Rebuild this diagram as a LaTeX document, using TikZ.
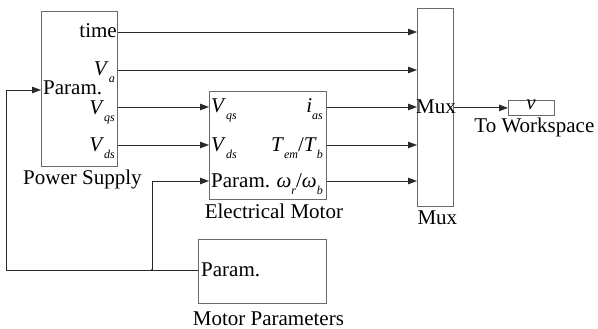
\documentclass[tikz,border=0pt]{standalone}
\usepackage{fontspec}
\setmainfont{Liberation Serif}
\newfontfamily\simfont{Liberation Serif}
\usepackage{tikz}
\usetikzlibrary{arrows.meta, positioning, calc}
\definecolor{boxgray}{RGB}{105, 105, 105}
\definecolor{wiregray}{RGB}{40, 40, 40}
\newcommand{\lowsub}[2]{\textit{#1}\raisebox{-7pt}{\fontsize{12}{12}\selectfont\textit{#2}}}
\tikzset{
  blk/.style={draw=boxgray, line width=0.8pt, anchor=north west, inner sep=0pt},
  lbl/.style={font=\simfont\fontsize{21}{24}\selectfont, inner sep=0pt},
  portl/.style={lbl, anchor=base west},
  portr/.style={lbl, anchor=base east},
  wire/.style={draw=wiregray, line width=0.8pt},
  sarrow/.style={wire, -{Triangle[length=9pt,width=6.5pt]}},
}

\begin{document}
\begin{tikzpicture}[x=1pt, y=-1pt]
  \useasboundingbox (0,0) rectangle (598,329);
  \node[blk, minimum width=76pt, minimum height=155pt] (ps) at (41,11) {};
  \node[blk, minimum width=117pt, minimum height=108pt] (em) at (209,91) {};
  \node[blk, minimum width=36pt, minimum height=198pt] (mux) at (417,8) {};
  \node[blk, minimum width=46pt, minimum height=15pt] (ws) at (508,100) {};
  \node[blk, minimum width=128pt, minimum height=64pt] (mp) at (198,239) {};

  \node[lbl, below=3pt of ps, xshift=3pt] (pslbl) {Power Supply};
  \node[lbl, below=4pt of em, xshift=6pt] (emlbl) {Electrical Motor};
  \node[lbl, below=4pt of mux, xshift=2pt] (muxlbl) {Mux};
  \node[lbl, below=2pt of ws, xshift=3pt] (wslbl) {To Workspace};
  \node[lbl, below=8pt of mp, xshift=6pt] (mplbl) {Motor Parameters};

  \node[portr] (ps-t) at (117,38) {time};
  \node[portr] (ps-a) at (115,76) {\lowsub{V}{a}};
  \node[portr] (ps-q) at (115,114) {\lowsub{V}{qs}};
  \node[portr] (ps-d) at (115,151) {\lowsub{V}{ds}};
  \node[portl] (ps-p) at (43,95) {Param.};

  \node[portl] (em-q) at (211,113) {\lowsub{V}{qs}};
  \node[portl] (em-d) at (211,151) {\lowsub{V}{ds}};
  \node[portl] (em-p) at (211,187) {Param.};
  \node[portr] (em-i) at (323,113) {\lowsub{i}{as}};
  \node[portr] (em-T) at (323,151) {\lowsub{T}{em}/\lowsub{T}{b}};
  \node[portr] (em-w) at (323,187) {\lowsub{ω}{r}/\lowsub{ω}{b}};

  \node[lbl, anchor=west] (mux-l) at (416,107) {Mux};
  \node[lbl, anchor=center] (ws-v) at (531,105) {\textit{v}};
  \node[portl] (mp-p) at (201,276) {Param.};

  \coordinate (bend) at (6,270);
  \coordinate (tap) at (152,270);

  \draw[sarrow] (ps.east |- 0,32) -- (mux.west |- 0,32);
  \draw[sarrow] (ps.east |- 0,70) -- (mux.west |- 0,70);
  \draw[sarrow] (ps.east |- 0,107) -- (em.west |- 0,107);
  \draw[sarrow] (ps.east |- 0,145) -- (em.west |- 0,145);
  \draw[sarrow] (em.east |- 0,107) -- (mux.west |- 0,107);
  \draw[sarrow] (em.east |- 0,145) -- (mux.west |- 0,145);
  \draw[sarrow] (em.east |- 0,181) -- (mux.west |- 0,181);
  \draw[sarrow] (mux.east |- ws.west) -- (ws.west);
  \draw[sarrow] (mp.west |- tap) -- (bend) |- (ps.west |- 0,90);
  \draw[sarrow] (tap) |- (em.west |- 0,181);
  \fill[wiregray] (tap) circle (1.2pt);
\end{tikzpicture}
\end{document}
